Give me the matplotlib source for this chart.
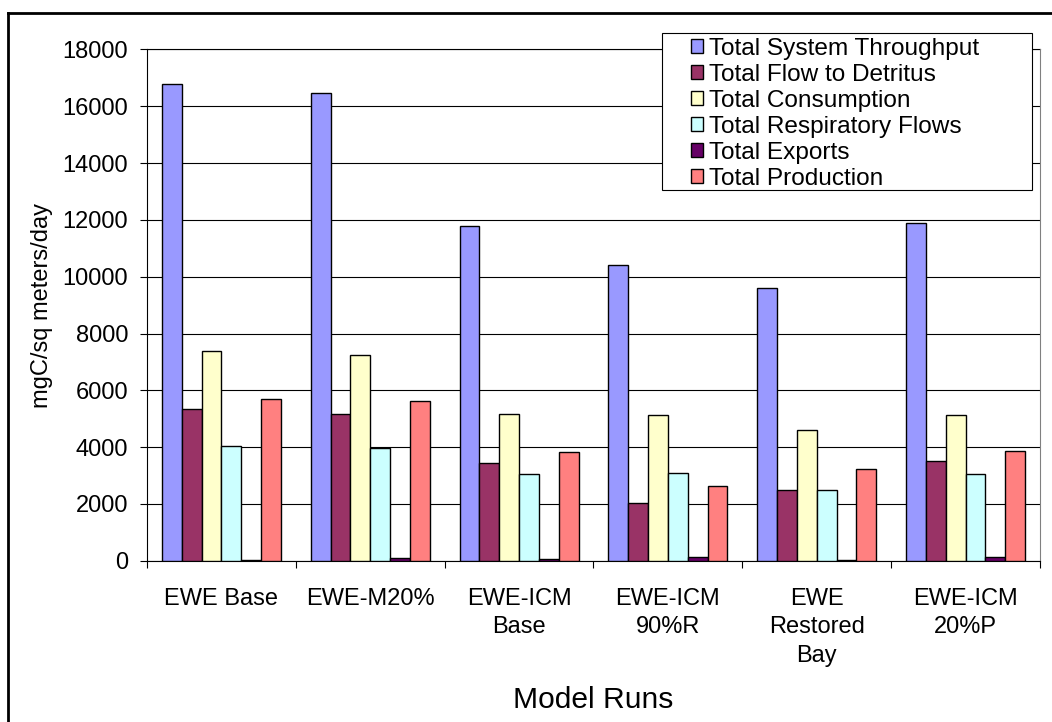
import numpy as np
import matplotlib
matplotlib.use("Agg")
import matplotlib.pyplot as plt
from matplotlib.patches import Rectangle
from matplotlib.lines import Line2D

plt.rcParams['font.family'] = ['Liberation Sans', 'DejaVu Sans']

# data
runs = ["EWE Base", "EWE-M20%", "EWE-ICM\nBase", "EWE-ICM\n90%R", "EWE\nRestored\nBay", "EWE-ICM\n20%P"]
series_names = ["Total System Throughput", "Total Flow to Detritus", "Total Consumption",
                "Total Respiratory Flows", "Total Exports", "Total Production"]
throughput = [16800, 16470, 11780, 10410, 9590, 11890]
detritus = [5350, 5160, 3440, 2045, 2480, 3525]
consumption = [7390, 7240, 5170, 5135, 4605, 5135]
respiratory = [4035, 3965, 3065, 3090, 2480, 3065]
exports = [20, 80, 55, 115, 35, 130]
production = [5690, 5620, 3820, 2620, 3230, 3865]
colors = ["#9999FF", "#993366", "#FFFFCC", "#CCFFFF", "#660066", "#FF8080"]

all_series = [throughput, detritus, consumption, respiratory, exports, production]

W, H = 1052, 722
fig = plt.figure(figsize=(W / 100, H / 100), dpi=100)
ax = fig.add_axes([147 / W, 1 - 560.7 / H, (1040 - 147) / W, (560.7 - 49.5) / H])

x = np.arange(len(runs))
bw = 1 / 7.5
for i, (vals, col) in enumerate(zip(all_series, colors)):
    ax.bar(x + (i - 2.5) * bw, vals, width=bw, color=col, edgecolor='black',
           linewidth=1.0, label=series_names[i], zorder=3)

ax.set_xlim(-0.5, len(runs) - 0.5)
ax.set_ylim(0, 18000)
ax.set_yticks(np.arange(0, 18001, 2000))
ax.yaxis.grid(True, color='black', linewidth=0.8, zorder=0)
ax.axhline(18000, color='black', linewidth=0.8, clip_on=False, zorder=1)
ax.set_axisbelow(True)

# category boundaries as major ticks, names as minor ticks
ax.set_xticks(np.arange(-0.5, len(runs), 1.0))
ax.set_xticklabels([])
ax.set_xticks(x, minor=True)
ax.set_xticklabels(runs, minor=True, fontsize=17, linespacing=1.39)
ax.tick_params(axis='x', which='minor', length=0, pad=19.5)
ax.tick_params(axis='x', which='major', length=5, direction='out', width=0.8)
ax.tick_params(axis='y', length=5, direction='out', width=0.8, labelsize=17, pad=8.6)

ax.spines['top'].set_visible(False)
ax.spines['right'].set_color('#808080')
ax.spines['left'].set_linewidth(0.8)
ax.spines['bottom'].set_linewidth(0.8)

ax.set_ylabel("mgC/sq meters/day", fontsize=17)
ax.yaxis.label.set_va('center')
ax.yaxis.set_label_coords(-0.1176, 0.5)
ax.set_xlabel("Model Runs", fontsize=21.6)
ax.xaxis.label.set_va('center')
ax.xaxis.set_label_coords(0.5, (560.7 - 700) / 511.2)

# legend box
fig.add_artist(Rectangle((662 / W, 1 - 190 / H), 370 / W, 157 / H, transform=fig.transFigure,
                         facecolor='white', edgecolor='black', linewidth=0.8, zorder=5))
handles, labels = ax.get_legend_handles_labels()
leg = fig.legend(handles, labels, loc='upper left', bbox_to_anchor=(691 / W, 1 - 38 / H),
                 frameon=False, fontsize=17.6, handlelength=0.5, handleheight=0.5,
                 handletextpad=0.25, labelspacing=0.16, borderpad=0, borderaxespad=0)
leg.set_zorder(6)

# outer chart border
fig.add_artist(Line2D([8 / W, 1.0], [1 - 13 / H, 1 - 13 / H], transform=fig.transFigure,
                      color='black', linewidth=2))
fig.add_artist(Line2D([8 / W, 8 / W], [0.0, 1 - 13 / H], transform=fig.transFigure,
                      color='black', linewidth=2))

fig.savefig("out.png", dpi=100)
